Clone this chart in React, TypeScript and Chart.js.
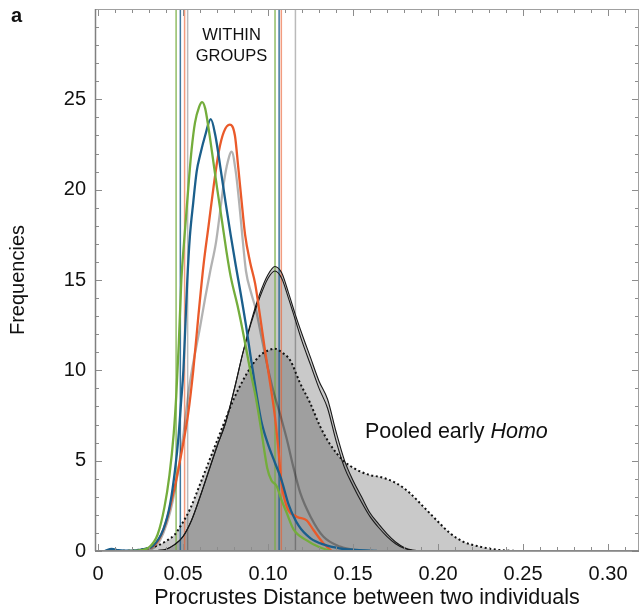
import React, { useEffect, useRef } from "react";
import { Chart, registerables } from "chart.js";

Chart.register(...registerables);

// ---------- axis ticks ----------
const X_TICKS = [0, 0.05, 0.1, 0.15, 0.2, 0.25, 0.3];
const Y_TICKS = [0, 5, 10, 15, 20, 25];

// ---------- within-group density curves ----------
const GREEN_X = [0.018, 0.025, 0.03, 0.035, 0.039, 0.042, 0.0445, 0.046, 0.0475, 0.049, 0.0505, 0.052, 0.0535, 0.055, 0.057, 0.0595, 0.0612, 0.063, 0.065, 0.067, 0.07, 0.073, 0.0755, 0.078, 0.082, 0.0855, 0.0895, 0.093, 0.0963, 0.0995, 0.102, 0.105, 0.108, 0.111, 0.115, 0.1225, 0.13, 0.137];
const GREEN_Y = [0, 0.05, 0.2, 0.9, 2.4, 4.2, 6.5, 8.6, 11.5, 15.0, 17.0, 18.8, 20.6, 22.2, 23.7, 24.6, 24.85, 24.5, 23.4, 22.1, 20.1, 18.2, 16.6, 15.2, 13.6, 12.0, 10.0, 8.4, 6.5, 4.6, 3.9, 3.6, 2.8, 2.1, 1.2, 0.6, 0.22, 0];

const BLUE_X = [0.004, 0.008, 0.012, 0.02, 0.027, 0.0325, 0.0384, 0.0424, 0.0453, 0.0473, 0.0488, 0.0502, 0.0514, 0.0525, 0.054, 0.056, 0.058, 0.06, 0.063, 0.0663, 0.069, 0.072, 0.075, 0.078, 0.081, 0.084, 0.087, 0.09, 0.093, 0.096, 0.1, 0.104, 0.108, 0.112, 0.118, 0.125, 0.133, 0.142, 0.152, 0.164];
const BLUE_Y = [0, 0.12, 0.05, 0.02, 0.1, 0.3, 1.2, 2.6, 4.5, 6.3, 8.2, 10.0, 12.6, 15.0, 17.4, 19.3, 21.0, 21.9, 23.0, 23.9, 23.0, 21.2, 19.3, 17.5, 15.8, 14.2, 12.5, 10.6, 8.8, 7.2, 5.9, 4.9, 3.9, 2.6, 1.4, 0.7, 0.35, 0.15, 0.06, 0];

const ORANGE_X = [0.027, 0.0345, 0.04, 0.045, 0.049, 0.053, 0.056, 0.059, 0.062, 0.065, 0.068, 0.071, 0.074, 0.0775, 0.0805, 0.0825, 0.0845, 0.0865, 0.0894, 0.0924, 0.0953, 0.0982, 0.1012, 0.1041, 0.1061, 0.108, 0.111, 0.1169, 0.1227, 0.1267, 0.1325, 0.1375];
const ORANGE_Y = [0, 0.45, 1.6, 3.5, 5.4, 7.6, 10.0, 13.0, 15.8, 18.0, 20.2, 22.1, 23.2, 23.6, 23.0, 21.2, 19.3, 17.5, 16.0, 14.8, 13.0, 11.1, 9.3, 7.4, 5.6, 3.7, 2.45, 1.9, 1.7, 1.16, 0.43, 0];

const GRAY_X = [0.026, 0.03, 0.0365, 0.044, 0.05, 0.054, 0.06, 0.063, 0.066, 0.0694, 0.0718, 0.0737, 0.0757, 0.0786, 0.081, 0.083, 0.085, 0.087, 0.09, 0.093, 0.096, 0.0995, 0.103, 0.107, 0.111, 0.115, 0.119, 0.125, 0.1325, 0.1425, 0.155];
const GRAY_Y = [0, 0.05, 0.6, 2.8, 6.3, 9.3, 12.4, 14.0, 15.5, 17.1, 18.8, 20.2, 21.3, 22.1, 21.0, 19.3, 17.3, 15.5, 14.3, 13.3, 11.9, 10.3, 8.9, 7.6, 6.2, 4.6, 3.2, 1.9, 0.8, 0.24, 0];

// ---------- pooled early Homo (between groups) ----------
const POOLED_X = [0.028, 0.035, 0.04, 0.045, 0.05, 0.055, 0.06, 0.065, 0.07, 0.075, 0.08, 0.085, 0.09, 0.095, 0.1, 0.104, 0.108, 0.112, 0.116, 0.12, 0.125, 0.13, 0.135, 0.14, 0.145, 0.15, 0.155, 0.16, 0.165, 0.17, 0.175, 0.18, 0.185, 0.19];
const POOLED_A_Y = [0, 0.03, 0.1, 0.35, 0.8, 1.7, 3.0, 4.4, 5.8, 7.1, 8.9, 10.9, 12.7, 14.2, 15.3, 15.75, 15.4, 14.3, 13.1, 12.0, 10.7, 9.4, 8.4, 6.6, 5.0, 3.9, 3.0, 2.1, 1.5, 0.95, 0.5, 0.2, 0.05, 0];
const POOLED_B_Y = [0, 0.03, 0.1, 0.35, 0.8, 1.7, 3.0, 4.4, 5.8, 7.1, 8.9, 10.9, 12.6, 14.0, 15.1, 15.5, 15.1, 14.0, 12.8, 11.6, 10.3, 9.0, 7.9, 6.1, 4.6, 3.6, 2.7, 1.9, 1.3, 0.8, 0.4, 0.15, 0.03, 0];

const DOTTED_X = [0.012, 0.018, 0.025, 0.03, 0.035, 0.04, 0.045, 0.048, 0.054, 0.06, 0.065, 0.07, 0.075, 0.08, 0.085, 0.09, 0.095, 0.1, 0.104, 0.108, 0.113, 0.1188, 0.1247, 0.1306, 0.1365, 0.1443, 0.1522, 0.16, 0.1659, 0.1757, 0.1835, 0.1914, 0.1992, 0.2071, 0.2149, 0.2247, 0.2345, 0.246];
const DOTTED_Y = [0, 0.02, 0.08, 0.17, 0.3, 0.55, 0.9, 1.3, 2.3, 3.7, 4.9, 6.1, 7.3, 8.45, 9.4, 10.2, 10.8, 11.1, 11.2, 11.0, 10.56, 9.3, 8.2, 6.9, 5.9, 5.0, 4.5, 4.2, 4.1, 3.74, 3.2, 2.45, 1.7, 0.98, 0.51, 0.24, 0.07, 0];

// ---------- group range markers (vertical lines) ----------
const GREEN_BOUNDS = [0.0459, 0.1041];
const BLUE_BOUNDS = [0.0484, 0.1065];
const ORANGE_BOUNDS = [0.0509, 0.1078];
const GRAY_BOUNDS = [0.0527, 0.1161];

const Y_TOP = 30;

const FONT = "'Liberation Sans', Arial, Helvetica, sans-serif";

const pts = (xs: number[], ys: number[]) => xs.map((x, i) => ({ x, y: ys[i] }));

function curve(xs: number[], ys: number[], color: string, width: number, extra: any = {}) {
  return {
    data: pts(xs, ys),
    borderColor: color,
    backgroundColor: "transparent",
    borderWidth: width,
    pointRadius: 0,
    fill: false,
    cubicInterpolationMode: "monotone",
    ...extra,
  };
}

function vlines(bounds: number[], color: string) {
  return bounds.map((v) => ({
    data: [
      { x: v, y: 0 },
      { x: v, y: Y_TOP },
    ],
    borderColor: color,
    borderWidth: 1.5,
    pointRadius: 0,
    fill: false,
  }));
}

function fillArea(xs: number[], ys: number[], color: string) {
  return {
    data: pts(xs, ys),
    borderColor: "transparent",
    borderWidth: 0,
    backgroundColor: color,
    pointRadius: 0,
    fill: "origin",
    cubicInterpolationMode: "monotone",
  };
}

const decorPlugin = {
  id: "decor",
  afterDatasetsDraw(chart: any) {
    const { ctx, chartArea, scales } = chart;
    const { left, right, top, bottom } = chartArea;
    const x = scales.x;
    const y = scales.y;
    ctx.save();
    // inward ticks
    ctx.strokeStyle = "#8c8c8c";
    ctx.lineWidth = 1;
    ctx.beginPath();
    for (let i = 0; i <= 32; i++) {
      const px = Math.round(x.getPixelForValue(i / 100)) + 0.5;
      if (px > right - 1) break;
      const len = i % 5 === 0 ? 7 : 4;
      ctx.moveTo(px, bottom);
      ctx.lineTo(px, bottom - len);
      ctx.moveTo(px, top);
      ctx.lineTo(px, top + len);
    }
    for (let j = 0; j <= Y_TOP; j++) {
      const py = Math.round(y.getPixelForValue(j)) + 0.5;
      const len = j % 5 === 0 ? 7 : 4;
      ctx.moveTo(left, py);
      ctx.lineTo(left + len, py);
      ctx.moveTo(right, py);
      ctx.lineTo(right - len, py);
    }
    ctx.stroke();
    // frame
    ctx.strokeStyle = "#a0a0a0";
    ctx.lineWidth = 1;
    ctx.strokeRect(left + 0.5, top + 0.5, right - left - 1, bottom - top - 1);
    ctx.strokeStyle = "#808080";
    ctx.lineWidth = 1.5;
    ctx.beginPath();
    ctx.moveTo(left, bottom);
    ctx.lineTo(right, bottom);
    ctx.moveTo(left + 0.5, top);
    ctx.lineTo(left + 0.5, bottom);
    ctx.stroke();

    // annotations
    ctx.fillStyle = "#111";
    ctx.textBaseline = "middle";
    ctx.textAlign = "center";
    ctx.font = `16.5px ${FONT}`;
    ctx.fillText("WITHIN", x.getPixelForValue(0.0785), y.getPixelForValue(28.55));
    ctx.fillText("GROUPS", x.getPixelForValue(0.0785), y.getPixelForValue(27.35));

    ctx.textAlign = "left";
    ctx.font = `21.5px ${FONT}`;
    const px0 = x.getPixelForValue(0.157);
    const py0 = y.getPixelForValue(6.6);
    const part1 = "Pooled early ";
    ctx.fillText(part1, px0, py0);
    const w1 = ctx.measureText(part1).width;
    ctx.font = `italic 21.5px ${FONT}`;
    ctx.fillText("Homo", px0 + w1, py0);

    ctx.font = `bold 20px ${FONT}`;
    ctx.textAlign = "left";
    ctx.fillText("a", 11, 16);
    ctx.restore();
  },
};

export default function App() {
  const ref = useRef<HTMLCanvasElement | null>(null);

  useEffect(() => {
    if (!ref.current) return;
    const datasets: any[] = [
      curve(GREEN_X, GREEN_Y, "#74ad3c", 2.3),
      curve(BLUE_X, BLUE_Y, "#1b5f8c", 2.3),
      curve(ORANGE_X, ORANGE_Y, "#ea5a2a", 2.3),
      curve(GRAY_X, GRAY_Y, "rgba(0,0,0,0.3)", 2.3),
      curve(POOLED_X, POOLED_A_Y, "#1a1a1a", 1.1),
      curve(POOLED_X, POOLED_B_Y, "#1a1a1a", 1.1),
      curve(DOTTED_X, DOTTED_Y, "#111", 2, { borderDash: [2, 2.6] }),
      ...vlines(GREEN_BOUNDS, "rgba(118,173,62,0.8)"),
      ...vlines(BLUE_BOUNDS, "rgba(27,95,140,0.85)"),
      ...vlines(ORANGE_BOUNDS, "rgba(234,90,42,0.6)"),
      ...vlines(GRAY_BOUNDS, "rgba(0,0,0,0.27)"),
      fillArea(POOLED_X, POOLED_A_Y, "rgba(0,0,0,0.21)"),
      fillArea(DOTTED_X, DOTTED_Y, "rgba(0,0,0,0.21)"),
    ];

    const chart = new Chart(ref.current, {
      type: "line",
      data: { datasets },
      plugins: [decorPlugin],
      options: {
        animation: false,
        responsive: false,
        devicePixelRatio: 1,
        parsing: false as any,
        layout: { padding: { top: 9, right: 0, left: 0, bottom: 0 } },
        plugins: { legend: { display: false }, tooltip: { enabled: false } },
        scales: {
          x: {
            type: "linear",
            min: -0.0018,
            max: 0.3182,
            grid: { display: false, drawTicks: false },
            border: { display: false },
            afterBuildTicks: (s: any) => {
              s.ticks = X_TICKS.map((v) => ({ value: v }));
            },
            afterFit: (s: any) => {
              s.height = 63;
              s.paddingLeft = 0;
              s.paddingRight = 0;
            },
            ticks: {
              autoSkip: false,
              maxRotation: 0,
              padding: 11,
              color: "#111",
              font: { family: FONT, size: 20 },
              callback: (v: any) => (Number(v) === 0 ? "0" : Number(v).toFixed(2)),
            },
            title: {
              display: true,
              text: "Procrustes Distance between two individuals",
              color: "#111",
              font: { family: FONT, size: 21.5 },
              padding: { top: 3, bottom: 3 },
            },
          },
          y: {
            type: "linear",
            min: 0,
            max: Y_TOP,
            grid: { display: false, drawTicks: false },
            border: { display: false },
            afterBuildTicks: (s: any) => {
              s.ticks = Y_TICKS.map((v) => ({ value: v }));
            },
            afterFit: (s: any) => {
              s.width = 95;
              s.paddingTop = 0;
              s.paddingBottom = 0;
            },
            ticks: {
              autoSkip: false,
              padding: 9,
              color: "#111",
              font: { family: FONT, size: 20 },
              callback: (v: any) => String(v),
            },
            title: {
              display: true,
              text: "Frequencies",
              color: "#111",
              font: { family: FONT, size: 20 },
              padding: { top: 6, bottom: 0 },
            },
          },
        },
      },
    });
    return () => chart.destroy();
  }, []);

  return (
    <div style={{ position: "fixed", left: 0, top: 0, width: 639, height: 614, background: "#fff" }}>
      <canvas ref={ref} width={639} height={614} style={{ display: "block", width: 639, height: 614 }} />
    </div>
  );
}
